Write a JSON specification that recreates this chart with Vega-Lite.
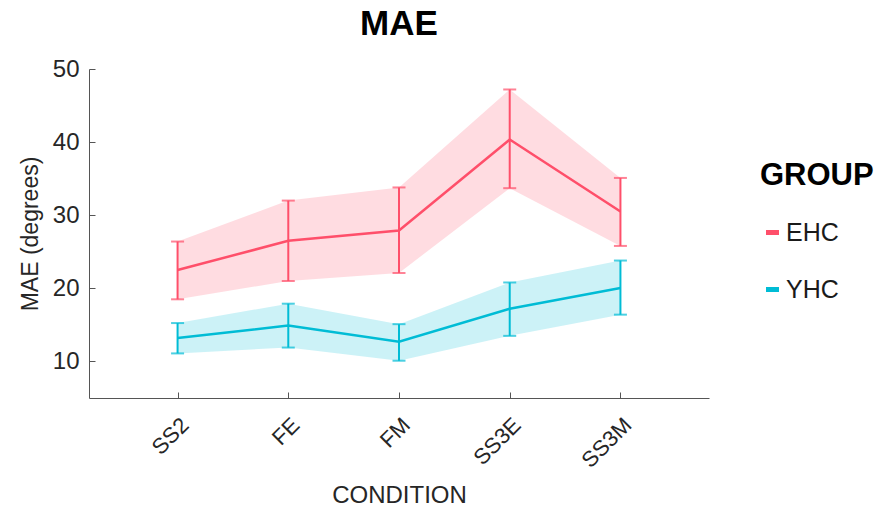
{
  "$schema": "https://vega.github.io/schema/vega-lite/v6.json",
  "autosize": {"type": "none"},
  "width": 620,
  "height": 329,
  "padding": {"left": 89, "top": 69, "right": 176, "bottom": 115},
  "background": "white",
  "config": {
    "font": "Liberation Sans",
    "view": {"stroke": null},
    "axis": {"grid": false, "domainColor": "#555555", "tickColor": "#555555", "labelColor": "#262626", "titleColor": "#262626", "titleFontWeight": "normal", "labelFont": "Liberation Sans", "titleFont": "Liberation Sans"}
  },
  "title": {"text": "MAE", "fontSize": 35, "fontWeight": "bold", "color": "black", "anchor": "middle", "offset": 15, "font": "Liberation Sans"},
  "data": {
    "values": [
      {"condition": "SS2", "group": "EHC", "mean": 22.5, "lo": 18.5, "hi": 26.4},
      {"condition": "FE", "group": "EHC", "mean": 26.5, "lo": 21.0, "hi": 32.0},
      {"condition": "FM", "group": "EHC", "mean": 27.9, "lo": 22.1, "hi": 33.8},
      {"condition": "SS3E", "group": "EHC", "mean": 40.35, "lo": 33.7, "hi": 47.2},
      {"condition": "SS3M", "group": "EHC", "mean": 30.5, "lo": 25.8, "hi": 35.1},
      {"condition": "SS2", "group": "YHC", "mean": 13.2, "lo": 11.1, "hi": 15.25},
      {"condition": "FE", "group": "YHC", "mean": 14.9, "lo": 11.9, "hi": 17.9},
      {"condition": "FM", "group": "YHC", "mean": 12.7, "lo": 10.1, "hi": 15.1},
      {"condition": "SS3E", "group": "YHC", "mean": 17.2, "lo": 13.5, "hi": 20.8},
      {"condition": "SS3M", "group": "YHC", "mean": 20.05, "lo": 16.4, "hi": 23.8}
    ]
  },
  "encoding": {
    "x": {
      "field": "condition", "type": "ordinal",
      "sort": ["SS2", "FE", "FM", "SS3E", "SS3M"],
      "scale": {"type": "point", "padding": 0.8},
      "axis": {"title": "CONDITION", "titleFontSize": 24, "labelFontSize": 22, "labelAngle": -45, "tickSize": -6, "labelPadding": 22, "labelDx": 8, "titlePadding": 12}
    }
  },
  "layer": [
    {
      "mark": {"type": "area", "fillOpacity": 0.2, "strokeWidth": 0},
      "encoding": {
        "y": {"field": "lo", "type": "quantitative", "title": "MAE (degrees)"},
        "y2": {"field": "hi"},
        "color": {"field": "group", "type": "nominal", "title": "GROUP"}
      }
    },
    {
      "mark": {"type": "errorbar", "ticks": {"size": 13}, "thickness": 2},
      "encoding": {
        "y": {"field": "lo", "type": "quantitative", "title": "MAE (degrees)"},
        "y2": {"field": "hi"},
        "color": {"field": "group", "type": "nominal", "title": "GROUP"}
      }
    },
    {
      "mark": {"type": "line", "strokeWidth": 2.5},
      "encoding": {
        "y": {
          "field": "mean", "type": "quantitative", "title": "MAE (degrees)",
          "scale": {"domain": [5, 50], "nice": false, "zero": false},
          "axis": {"title": "MAE (degrees)", "titleFontSize": 23, "labelFontSize": 24, "values": [10, 20, 30, 40, 50], "tickSize": -6, "labelPadding": 16, "titlePadding": 10}
        },
        "color": {
          "field": "group", "type": "nominal", "title": "GROUP",
          "scale": {"domain": ["EHC", "YHC"], "range": ["#FF4F6A", "#00BCD5"]},
          "legend": {
            "orient": "none", "legendX": 671, "legendY": 92,
            "titleFontSize": 31, "titleFontWeight": "bold", "titleColor": "black", "titleFont": "Liberation Sans",
            "labelFontSize": 25, "labelColor": "#1a1a1a", "labelFont": "Liberation Sans",
            "symbolType": "stroke", "symbolStrokeWidth": 5, "symbolSize": 169,
            "rowPadding": 31, "titlePadding": 28, "labelOffset": 1,
            "encode": {"symbols": {"update": {"stroke": {"scale": "color", "field": "value"}, "strokeWidth": {"value": 5}, "opacity": {"value": 1}, "strokeOpacity": {"value": 1}, "fillOpacity": {"value": 1}}}}
          }
        }
      }
    }
  ]
}
